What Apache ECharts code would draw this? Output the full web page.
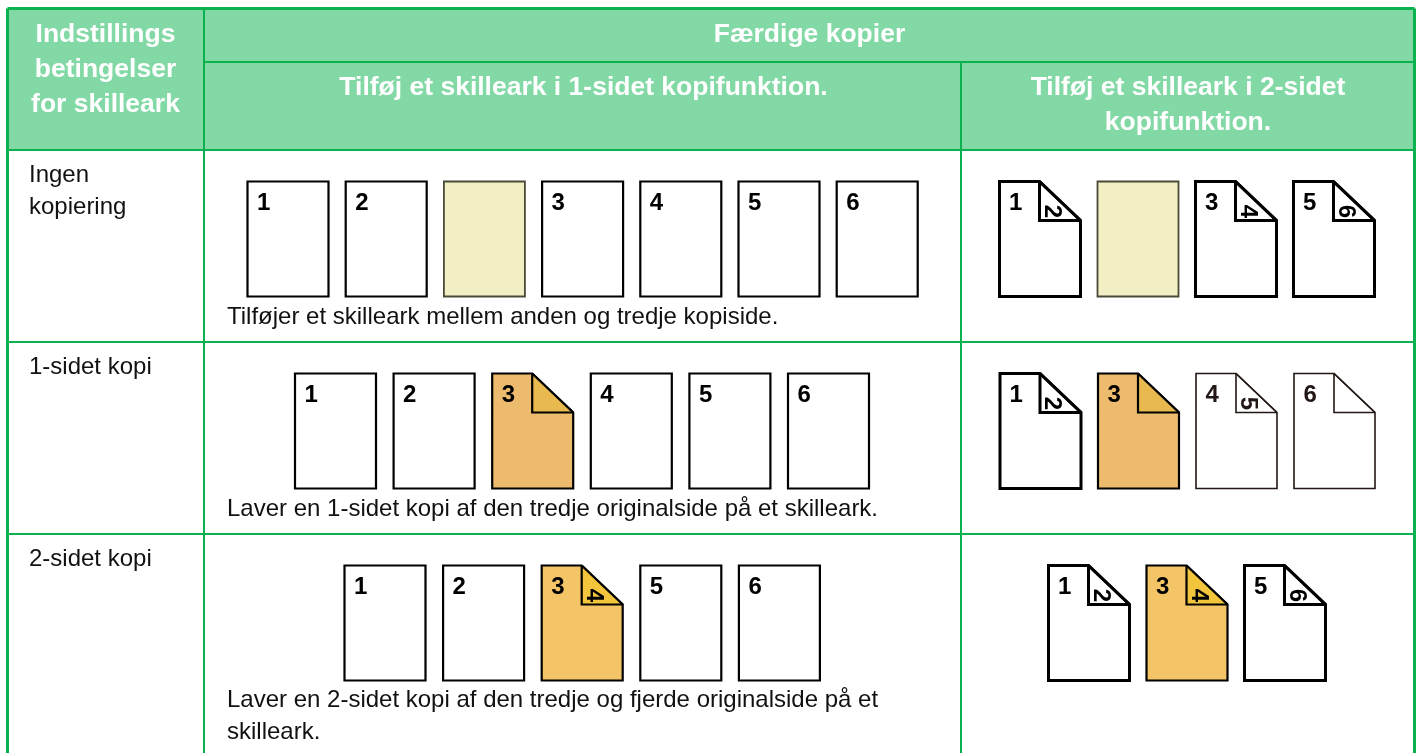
<!DOCTYPE html>
<html>
<head>
<meta charset="utf-8">
<style>html,body{margin:0;padding:0;background:#fff}#c{width:1418px;height:753px}</style>
<script src="https://cdn.jsdelivr.net/npm/echarts@6/dist/echarts.min.js"></script>
</head>
<body>
<div id="c"></div>
<script>
// ---- content ----
const settingsHeader = ["Indstillings", "betingelser", "for skilleark"];
const finishedHeader = ["Færdige kopier"];
const oneSidedHeader = ["Tilføj et skilleark i 1-sidet kopifunktion."];
const twoSidedHeader = ["Tilføj et skilleark i 2-sidet", "kopifunktion."];
const rowNames = [["Ingen", "kopiering"], ["1-sidet kopi"], ["2-sidet kopi"]];
const captions = [
  ["Tilføjer et skilleark mellem anden og tredje kopiside."],
  ["Laver en 1-sidet kopi af den tredje originalside på et skilleark."],
  ["Laver en 2-sidet kopi af den tredje og fjerde originalside på et", "skilleark."]
];
// page lists: "front/back" means a folded sheet with a number on its back; "" is a blank sheet
const row1OneSided = ["1", "2", "", "3", "4", "5", "6"];
const row1TwoSided = ["1/2", "", "3/4", "5/6"];
const row2OneSided = ["1", "2", "3/", "4", "5", "6"];
const row2TwoSided = ["1/2", "3/", "4/5", "6/"];
const row3OneSided = ["1", "2", "3/4", "5", "6"];
const row3TwoSided = ["1/2", "3/4", "5/6"];

// ---- layout ----
const W = 1418, H = 753;
const colX = [7.5, 204, 961, 1414.5];
const rowY = [8.5, 62, 150, 342, 534];
const PAGE_W = 81, PAGE_H = 115, FOLD_W = 40, FOLD_H = 39;
const panels = [
  {pages: row1OneSided, x: 247.5, y: 181.5, pitch: 98.2, lw: 2.2, stroke: '#000'},
  {pages: row1TwoSided, x: 999.5, y: 181.5, pitch: 98, lw: 3, stroke: '#000'},
  {pages: row2OneSided, x: 295, y: 373.5, pitch: 98.6, lw: 2.2, stroke: '#000', tint: '#EDBB6E', foldTint: '#E7B94E', tintAt: 2},
  {pages: row2TwoSided, x: 1000, y: 373.5, pitch: 98, lw: 3, stroke: '#000', tint: '#EDBB6E', foldTint: '#E7B94E', tintAt: 1, thinFrom: 2},
  {pages: row3OneSided, x: 344.5, y: 565.5, pitch: 98.6, lw: 2.2, stroke: '#000', tint: '#F3C566', foldTint: '#F2C53D', tintAt: 2},
  {pages: row3TwoSided, x: 1048.5, y: 565.5, pitch: 98, lw: 3, stroke: '#000', tint: '#F3C566', foldTint: '#F2C53D', tintAt: 1}
];
const SHEET = '#F2EFC4', GREEN = '#09B14F', HEAD = '#83D9A6';

const pageData = [];
panels.forEach((p, pi) => p.pages.forEach((s, i) => pageData.push([p.x + i * p.pitch, p.y, pi, i])));

function textEl(x, y, text, size, bold, fill, align) {
  return {type: 'text', x, y, style: {text, fontFamily: 'Liberation Sans', fontSize: size,
    fontWeight: bold ? 'bold' : 'normal', fill, align: align || 'left', verticalAlign: 'middle'}};
}
function renderPage(params, api) {
  const [x, y] = api.coord([api.value(0), api.value(1)]);
  const p = panels[api.value(2)], i = api.value(3), spec = p.pages[i];
  const folded = spec.includes('/');
  const [front, back] = spec.split('/');
  const thin = p.thinFrom !== undefined && i >= p.thinFrom;
  const stroke = thin ? '#231815' : (spec === '' ? '#4a4a38' : p.stroke);
  const lw = thin ? 1.6 : (spec === '' ? 1.8 : (p.tintAt === i ? 2.2 : p.lw));
  const fill = spec === '' ? SHEET : (p.tintAt === i ? p.tint : '#fff');
  const cs = [];
  const style = {fill, stroke, lineWidth: lw, lineJoin: 'miter', miterLimit: 4};
  if (!folded) {
    cs.push({type: 'polygon', shape: {points: [[x, y], [x + PAGE_W, y], [x + PAGE_W, y + PAGE_H], [x, y + PAGE_H]]}, style});
  } else {
    const fx = x + FOLD_W, fy = y + FOLD_H, rx = x + PAGE_W, by = y + PAGE_H;
    if (p.tintAt === i) {
      cs.push({type: 'polygon', shape: {points: [[x, y], [fx, y], [rx, fy], [rx, by], [x, by]]}, style});
      cs.push({type: 'polygon', shape: {points: [[fx, y], [rx, fy], [fx, fy]]}, style: {fill: p.foldTint}});
    } else {
      cs.push({type: 'polygon', shape: {points: [[x, y], [fx, y], [rx, fy], [rx, by], [x, by]]}, style});
    }
    cs.push({type: 'polyline', shape: {points: [[fx, y], [fx, fy], [rx, fy]]},
      style: {fill: null, stroke, lineWidth: lw, lineJoin: 'miter'}});
    cs.push({type: 'polyline', shape: {points: [[fx, y], [rx, fy]]},
      style: {fill: null, stroke, lineWidth: lw}});
  }
  const ink = thin ? '#231815' : '#000';
  if (front) cs.push(textEl(x + 9.5, y + 21.5, front, 24, true, ink));
  if (back) {
    const b = textEl(x + 52, y + 30, back, 24, true, ink, 'center');
    b.rotation = -Math.PI / 2;
    cs.push(b);
  }
  return {type: 'group', children: cs};
}

// table cells
const cellData = [
  [colX[0], rowY[0], colX[3], rowY[2], 1],
  [colX[0], rowY[2], colX[3], H + 5, 0]
];
function renderCell(params, api) {
  const a = api.coord([api.value(0), api.value(1)]), b = api.coord([api.value(2), api.value(3)]);
  return {type: 'rect', shape: {x: a[0], y: a[1], width: b[0] - a[0], height: b[1] - a[1]},
    style: {fill: api.value(4) ? HEAD : '#fff'}};
}
// grid lines: [x1,y1,x2,y2,width]
const lineData = [
  [colX[0], rowY[0], colX[3], rowY[0], 3],
  [colX[0], rowY[0], colX[0], H + 5, 3],
  [colX[3], rowY[0], colX[3], H + 5, 3],
  [colX[1], rowY[0], colX[1], H + 5, 2],
  [colX[2], rowY[1], colX[2], H + 5, 2],
  [colX[1], rowY[1], colX[3], rowY[1], 2],
  [colX[0], rowY[2], colX[3], rowY[2], 2],
  [colX[0], rowY[3], colX[3], rowY[3], 2],
  [colX[0], rowY[4], colX[3], rowY[4], 2]
];
function renderLine(params, api) {
  const a = api.coord([api.value(0), api.value(1)]), b = api.coord([api.value(2), api.value(3)]);
  return {type: 'line', shape: {x1: a[0], y1: a[1], x2: b[0], y2: b[1]},
    style: {stroke: GREEN, lineWidth: api.value(4)}};
}
// text blocks
const H_SIZE = 26.5, B_SIZE = 24;
const textBlocks = [];
function addLines(lines, x, y0, pitch, size, bold, fill, align) {
  lines.forEach((t, k) => textBlocks.push({x, y: y0 + k * pitch, t, size, bold, fill, align}));
}
addLines(settingsHeader, 105.5, 35, 34.6, H_SIZE, true, '#fff', 'center');
addLines(finishedHeader, 809.5, 35, 34.6, H_SIZE, true, '#fff', 'center');
addLines(oneSidedHeader, 583.5, 88, 34.6, H_SIZE, true, '#fff', 'center');
addLines(twoSidedHeader, 1188, 88, 34.6, H_SIZE, true, '#fff', 'center');
rowNames.forEach((r, k) => addLines(r, 29, [175, 367, 559][k], 32, B_SIZE, false, '#111', 'left'));
captions.forEach((c, k) => addLines(c, 227, [317.5, 509, 700.5][k], 32, B_SIZE, false, '#111', 'left'));
function renderText(params, api) {
  const b = textBlocks[api.value(2)];
  const [x, y] = api.coord([api.value(0), api.value(1)]);
  return textEl(x, y, b.t, b.size, b.bold, b.fill, b.align);
}

const chart = echarts.init(document.getElementById('c'), null, {renderer: 'canvas'});
const custom = (renderItem, data, z) => ({type: 'custom', coordinateSystem: 'cartesian2d', renderItem, data, z,
  clip: false, silent: true, animation: false, encode: {x: 0, y: 1}});
chart.setOption({
  animation: false,
  backgroundColor: '#fff',
  grid: {left: 0, right: 0, top: 0, bottom: 0},
  xAxis: {type: 'value', min: 0, max: W, show: false},
  yAxis: {type: 'value', min: 0, max: H, inverse: true, show: false},
  series: [
    custom(renderCell, cellData, 1),
    custom(renderLine, lineData, 2),
    custom(renderPage, pageData, 3),
    custom(renderText, textBlocks.map((b, i) => [b.x, b.y, i]), 4)
  ]
});
</script>
</body>
</html>
